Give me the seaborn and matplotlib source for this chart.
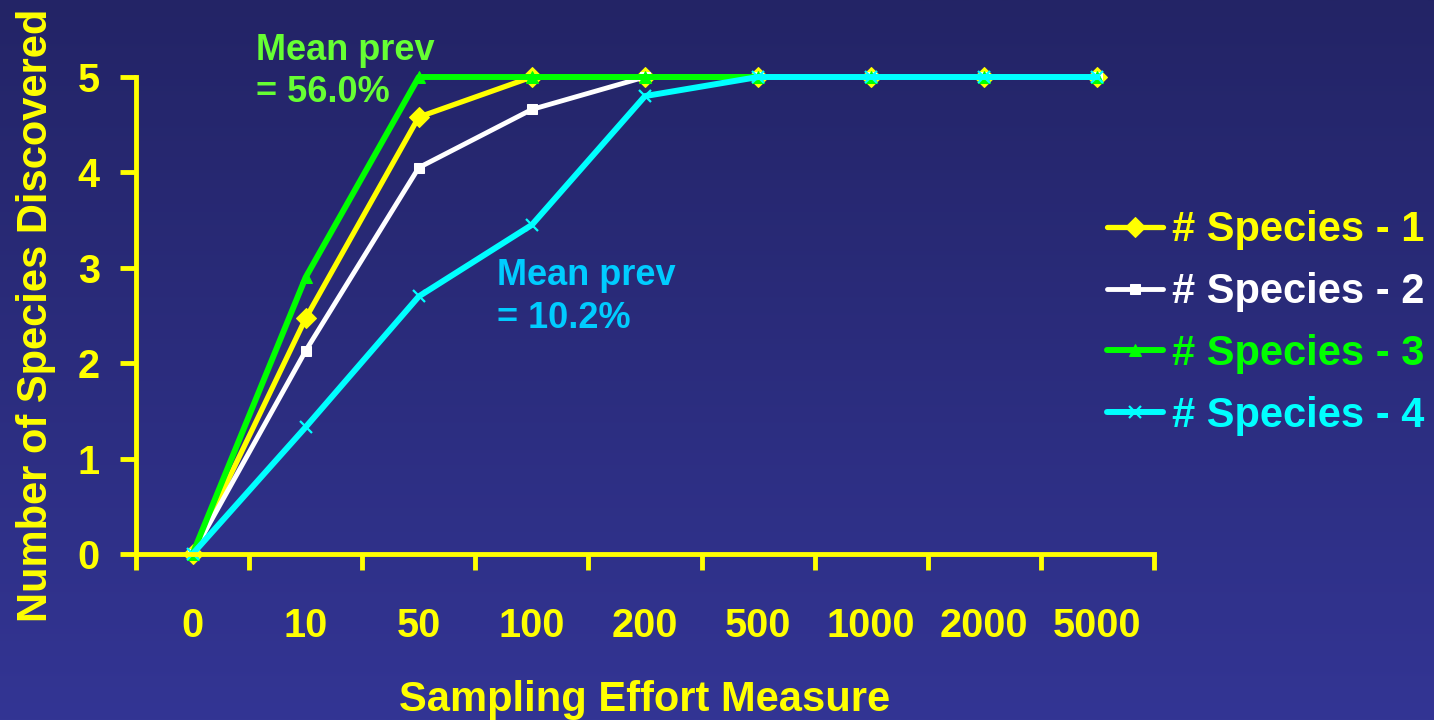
import numpy as np
import matplotlib
matplotlib.use("Agg")
import matplotlib.pyplot as plt
import seaborn as sns
from matplotlib.colors import LinearSegmentedColormap
from matplotlib.ticker import FixedLocator

# Sampling effort categories and cumulative species discovered
effort = ["0", "10", "50", "100", "200", "500", "1000", "2000", "5000"]
species_1 = [0, 2.47, 4.58, 5, 5, 5, 5, 5, 5]
species_2 = [0, 2.13, 4.05, 4.66, 5, 5, 5, 5, 5]
species_3 = [0, 2.90, 5, 5, 5, 5, 5, 5, 5]
species_4 = [0, 1.33, 2.70, 3.45, 4.80, 5, 5, 5, 5]
series_names = ["# Species - 1", "# Species - 2", "# Species - 3", "# Species - 4"]
y_ticks = [0, 1, 2, 3, 4, 5]

YELLOW = "#FFFF00"
series_styles = [
    dict(color="#FFFF00", marker="D", markersize=10, lw=3.8, mec="#FFFF00"),
    dict(color="#FFFFFF", marker="s", markersize=7, lw=3.5, mec="#FFFFFF"),
    dict(color="#00FF00", marker="^", markersize=9, lw=4.3, mec="#00FF00"),
    dict(color="#00FFFF", marker="x", markersize=9, lw=4.3, mec="#00FFFF", mew=1.6),
]

sns.set_theme(style="ticks")
plt.rcParams["font.family"] = ["Liberation Sans", "DejaVu Sans"]
plt.rcParams["font.weight"] = "bold"
plt.rcParams["axes.labelweight"] = "bold"

fig = plt.figure(figsize=(14.34, 7.2), dpi=100)

# vertical blue gradient background
bg = fig.add_axes([0, 0, 1, 1], zorder=-10)
grad = np.linspace(0, 1, 256).reshape(-1, 1)
cmap = LinearSegmentedColormap.from_list("bg", ["#232466", "#333594"])
bg.imshow(grad, aspect="auto", cmap=cmap, extent=[0, 1, 0, 1], origin="upper")
bg.axis("off")

ax = fig.add_axes([136 / 1434, 1 - 554 / 720, (1154 - 136) / 1434, (554 - 77) / 720])
ax.patch.set_alpha(0)

x_pos = np.arange(len(effort))
all_series = [species_1, species_2, species_3, species_4]
for vals, name, st in zip(all_series, series_names, series_styles):
    sns.lineplot(x=x_pos, y=vals, ax=ax, label=name, clip_on=False, **st)

ax.set_xlim(-0.5, len(effort) - 0.5)
ax.set_ylim(0, 5)
ax.set_xticks(x_pos)
ax.set_xticklabels(effort)
ax.xaxis.set_minor_locator(FixedLocator(np.arange(-0.5, len(effort), 1.0)))
ax.set_yticks(y_ticks)

ax.tick_params(axis="x", which="major", length=0, pad=38, labelsize=28.5, labelcolor=YELLOW)
ax.tick_params(axis="x", which="minor", length=11.5, width=3.5, color=YELLOW, direction="out")
ax.tick_params(axis="y", which="major", length=11.5, width=3.5, color=YELLOW, direction="out",
               pad=14.5, labelsize=28.5, labelcolor=YELLOW)

sns.despine(ax=ax)
for side in ("left", "bottom"):
    ax.spines[side].set_color(YELLOW)
    ax.spines[side].set_linewidth(3.5)

ax.set_xlabel("Sampling Effort Measure", fontsize=30, color=YELLOW, fontweight="bold", labelpad=25)
ax.set_ylabel("Number of Species Discovered", fontsize=30, color=YELLOW, fontweight="bold", labelpad=16)

# prevalence notes
ax.text(0.56, 5.18, "Mean prev", color="#66FF33", fontsize=26, ha="left", va="baseline", clip_on=False)
ax.text(0.56, 4.74, "= 56.0%", color="#66FF33", fontsize=26, ha="left", va="baseline", clip_on=False)
ax.text(2.69, 2.82, "Mean prev", color="#00CCFF", fontsize=26, ha="left", va="baseline")
ax.text(2.69, 2.37, "= 10.2%", color="#00CCFF", fontsize=26, ha="left", va="baseline")

leg = ax.legend(loc="center left", bbox_to_anchor=(1107 / 1434, 1 - 323 / 720),
                bbox_transform=fig.transFigure, frameon=False, borderpad=0, borderaxespad=0,
                handlelength=1.34, handletextpad=0.22, labelspacing=0.52, fontsize=30)
for txt, st in zip(leg.get_texts(), series_styles):
    txt.set_color(st["color"])

fig.savefig("out.png", dpi=100)
